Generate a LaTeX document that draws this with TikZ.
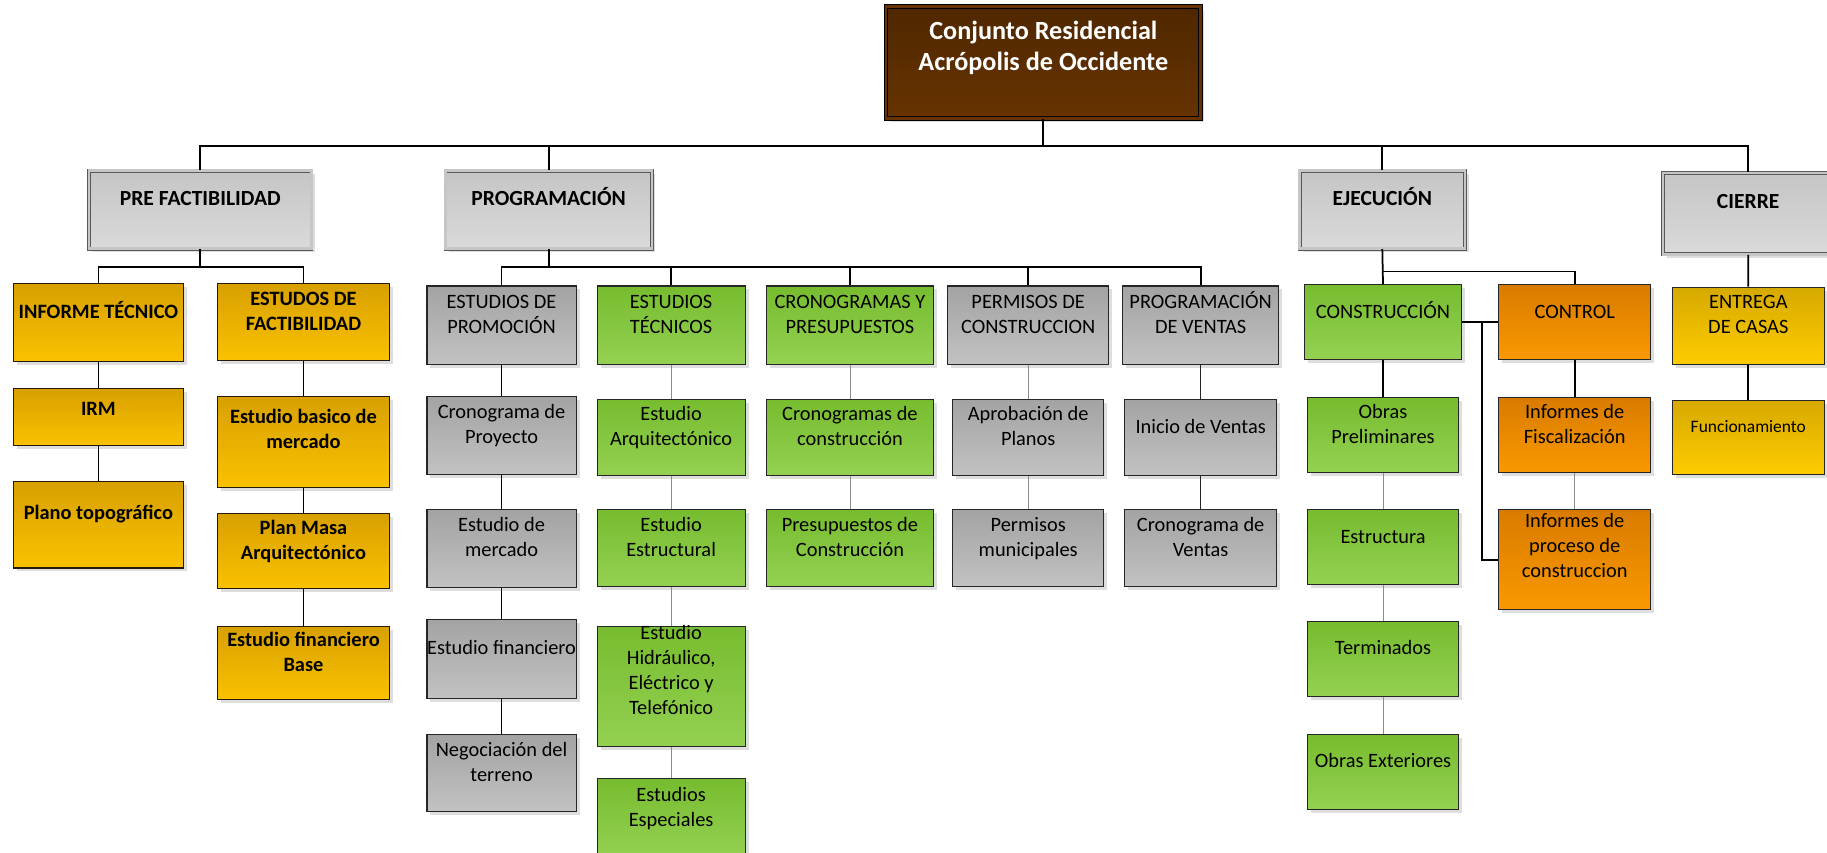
\documentclass[tikz,border=0pt]{standalone}
\usepackage{fontspec}
\setmainfont{Carlito}
\usetikzlibrary{shadows,calc}
\definecolor{rootT}{HTML}{4F2700}
\definecolor{rootB}{HTML}{663300}
\definecolor{headT}{HTML}{C5C5C5}
\definecolor{headB}{HTML}{DADADA}
\definecolor{grayT}{HTML}{A3A3A3}
\definecolor{grayB}{HTML}{C2C2C2}
\definecolor{greenT}{HTML}{77BC2F}
\definecolor{greenB}{HTML}{94D152}
\definecolor{goldT}{HTML}{D8A000}
\definecolor{goldB}{HTML}{FAC200}
\definecolor{orangeT}{HTML}{D97B00}
\definecolor{orangeB}{HTML}{F99900}
\definecolor{yelT}{HTML}{D6A900}
\definecolor{yelB}{HTML}{FFCC00}
\tikzset{
  base/.style={inner sep=0pt, draw=black!85, line width=0.9pt, text=black,
    general shadow={fill=black!13, shadow xshift=3pt, shadow yshift=-3pt},
    font=\fontsize{17.5}{21.5}\selectfont},
  graybox/.style={base, top color=grayT, bottom color=grayB},
  greenbox/.style={base, top color=greenT, bottom color=greenB},
  goldbox/.style={base, top color=goldT, bottom color=goldB, draw=black!80!brown,
    font=\fontsize{17.5}{21.5}\selectfont\bfseries},
  orangebox/.style={base, top color=orangeT, bottom color=orangeB},
  yellowbox/.style={base, top color=yelT, bottom color=yelB},
  headbox/.style={base, top color=headT, bottom color=headB, draw=black!65,
    double=gray!45, double distance=2pt, line width=0.7pt,
    font=\fontsize{18.5}{22}\selectfont\bfseries},
  rootbox/.style={base, top color=rootT, bottom color=rootB, draw=black,
    double=rootB, double distance=2.5pt, line width=0.8pt, text=white,
    font=\fontsize{22.5}{26}\selectfont\bfseries},
  mainline/.style={line width=1.5pt, black},
  midline/.style={line width=1.1pt, black!85},
  thinline/.style={line width=0.7pt, black!45},
}
\newcommand\mkbox[7]{%
  \pgfmathsetmacro\bw{#5-#3}%
  \pgfmathsetmacro\bh{#6-#4}%
  \pgfmathsetmacro\br{0.12*\bh}%
  \node[#2, anchor=north west, minimum width=\bw pt, minimum height=\bh pt] (#1) at (#3pt,-#4pt)
    {\makebox[0pt]{\raisebox{\br pt}[\height][\depth]{\begin{tabular}{@{}c@{}}#7\end{tabular}}}};%
}
\begin{document}
\begin{tikzpicture}
\path[use as bounding box, fill=white] (0pt,0pt) rectangle (1568pt,-732pt);
\clip (0pt,0pt) rectangle (1568pt,-732pt);

% root and level 1
\mkbox{root}{rootbox}{760}{5}{1030}{101}{Conjunto Residencial\\Acrópolis de Occidente}
\mkbox{pre}{headbox}{76}{146}{267}{213}{PRE FACTIBILIDAD}
\mkbox{prog}{headbox}{382}{146}{559}{213}{PROGRAMACIÓN}
\mkbox{ejec}{headbox}{1115}{146}{1257}{213}{EJECUCIÓN}
\mkbox{cierre}{headbox}{1427}{148}{1573}{218}{CIERRE}

% pre factibilidad
\mkbox{inf}{goldbox}{11}{243}{157}{310}{INFORME TÉCNICO}
\mkbox{estf}{goldbox}{186}{243}{334}{309}{ESTUDOS DE\\FACTIBILIDAD}
\mkbox{irm}{goldbox}{11}{333}{157}{382}{IRM}
\mkbox{plano}{goldbox}{11}{413}{157}{487}{Plano topográfico}
\mkbox{ebm}{goldbox}{186}{340}{334}{418}{Estudio basico de\\mercado}
\mkbox{pma}{goldbox}{186}{440}{334}{505}{Plan Masa\\Arquitectónico}
\mkbox{efb}{goldbox}{186}{537}{334}{600}{Estudio financiero\\Base}

% programacion
\mkbox{prom}{graybox}{366}{245}{494}{312}{ESTUDIOS DE\\PROMOCIÓN}
\mkbox{tec}{greenbox}{512}{245}{639}{312}{ESTUDIOS\\TÉCNICOS}
\mkbox{cyp}{greenbox}{657}{245}{801}{312}{CRONOGRAMAS Y\\PRESUPUESTOS}
\mkbox{perm}{graybox}{813}{245}{951}{312}{PERMISOS DE\\CONSTRUCCION}
\mkbox{pven}{graybox}{963}{245}{1097}{312}{PROGRAMACIÓN\\DE VENTAS}

\mkbox{cp}{graybox}{366}{340}{494}{407}{Cronograma de\\Proyecto}
\mkbox{em}{graybox}{366}{437}{494}{504}{Estudio de\\mercado}
\mkbox{ef}{graybox}{366}{531}{494}{599}{Estudio financiero}
\mkbox{neg}{graybox}{366}{630}{494}{696}{Negociación del\\terreno}

\mkbox{ea}{greenbox}{512}{342}{639}{408}{Estudio\\Arquitectónico}
\mkbox{ee}{greenbox}{512}{437}{639}{503}{Estudio\\Estructural}
\mkbox{eh}{greenbox}{512}{537}{639}{640}{Estudio\\Hidráulico,\\Eléctrico y\\Telefónico}
\mkbox{esp}{greenbox}{512}{668}{639}{735}{Estudios\\Especiales}

\mkbox{cc}{greenbox}{657}{342}{801}{408}{Cronogramas de\\construcción}
\mkbox{pc}{greenbox}{657}{437}{801}{503}{Presupuestos de\\Construcción}

\mkbox{ap}{graybox}{817}{342}{947}{408}{Aprobación de\\Planos}
\mkbox{pm}{graybox}{817}{437}{947}{503}{Permisos\\municipales}

\mkbox{iv}{graybox}{965}{342}{1095}{408}{Inicio de Ventas}
\mkbox{cv}{graybox}{965}{437}{1095}{503}{Cronograma de\\Ventas}

% ejecucion
\mkbox{cons}{greenbox}{1119}{244}{1254}{308}{CONSTRUCCIÓN}
\mkbox{ctrl}{orangebox}{1286}{244}{1416}{308}{CONTROL}
\mkbox{op}{greenbox}{1122}{341}{1251}{405}{Obras\\Preliminares}
\mkbox{est}{greenbox}{1122}{437}{1251}{501}{Estructura}
\mkbox{ter}{greenbox}{1122}{533}{1251}{597}{Terminados}
\mkbox{oe}{greenbox}{1122}{630}{1251}{694}{Obras Exteriores}
\mkbox{ifz}{orangebox}{1286}{341}{1416}{405}{Informes de\\Fiscalización}
\mkbox{ipc}{orangebox}{1286}{437}{1416}{523}{Informes de\\proceso de\\construccion}

% cierre
\mkbox{ent}{yellowbox}{1435}{246}{1565}{312}{ENTREGA\\DE CASAS}
\mkbox{fun}{yellowbox, font=\fontsize{15}{18}\selectfont}{1435}{343}{1565}{407}{Funcionamiento}

% connectors
\coordinate (b0) at (0pt,-125pt);
\coordinate (b1) at (0pt,-229pt);
\coordinate (b2) at (0pt,-233pt);
\coordinate (jx) at (1272pt,0pt);

\draw[mainline] (root.south) -- (root.south |- b0);
\draw[mainline] (pre.north) -- (pre.north |- b0) -- (cierre.north |- b0) -- (cierre.north);
\draw[mainline] (prog.north) -- (prog.north |- b0);
\draw[mainline] (ejec.north) -- (ejec.north |- b0);

\draw[mainline] (pre.south) -- (pre.south |- b1);
\draw[mainline] (inf.north) -- (inf.north |- b1) -- (estf.north |- b1) -- (estf.north);
\draw[mainline] (inf.south) -- (irm.north);
\draw[mainline] (irm.south) -- (plano.north);
\draw[mainline] (estf.south) -- (ebm.north);
\draw[mainline] (ebm.south) -- (pma.north);
\draw[mainline] (pma.south) -- (efb.north);

\draw[mainline] (prog.south) -- (prog.south |- b1);
\draw[mainline] (prom.north) -- (prom.north |- b1) -- (pven.north |- b1) -- (pven.north);
\draw[mainline] (tec.north) -- (tec.north |- b1);
\draw[mainline] (cyp.north) -- (cyp.north |- b1);
\draw[mainline] (perm.north) -- (perm.north |- b1);

\draw[mainline] (prom.south) -- (cp.north);
\draw[mainline] (cp.south) -- (em.north);
\draw[mainline] (em.south) -- (ef.north);
\draw[mainline] (ef.south) -- (neg.north);

\draw[thinline] (tec.south) -- (ea.north);
\draw[thinline] (ea.south) -- (ee.north);
\draw[thinline] (ee.south) -- (eh.north);
\draw[thinline] (eh.south) -- (esp.north);

\draw[thinline] (cyp.south) -- (cc.north);
\draw[thinline] (cc.south) -- (pc.north);

\draw[thinline] (perm.south) -- (ap.north);
\draw[thinline] (ap.south) -- (pm.north);

\draw[midline] (pven.south) -- (iv.north);
\draw[midline] (iv.south) -- (cv.north);

\draw[mainline] (ejec.south) -- (cons.north);
\draw[mainline] (ejec.south |- b2) -- (ctrl.north |- b2) -- (ctrl.north);
\draw[mainline] (cons.east) -- (ctrl.west);
\draw[mainline] (cons.east -| jx) |- (ipc.west);
\draw[mainline] (cons.south) -- (op.north);
\draw[thinline] (op.south) -- (est.north);
\draw[thinline] (est.south) -- (ter.north);
\draw[thinline] (ter.south) -- (oe.north);
\draw[mainline] (ctrl.south) -- (ifz.north);
\draw[thinline] (ifz.south) -- (ipc.north);

\draw[mainline] (cierre.south) -- (ent.north);
\draw[mainline] (ent.south) -- (fun.north);
\end{tikzpicture}
\end{document}
